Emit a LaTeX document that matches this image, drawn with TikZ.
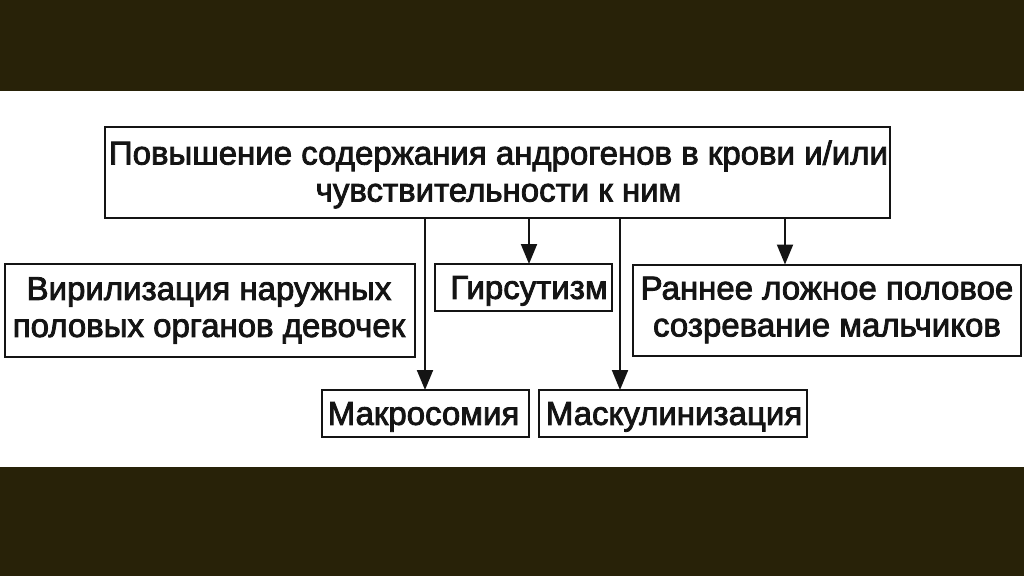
\documentclass[tikz,border=0pt]{standalone}
\usepackage{fontspec}
\setmainfont{Liberation Sans}[FakeBold=2.5]
\usetikzlibrary{arrows.meta}
\definecolor{band}{RGB}{40,34,8}
\definecolor{ink}{RGB}{20,20,20}
\begin{document}
\begin{tikzpicture}[x=1pt,y=-1pt,
  box/.style={draw=ink,line width=2pt,inner sep=0pt},
  txt/.style={inner sep=0pt,align=center,text=ink,
    font=\fontsize{33}{37}\selectfont},
  one/.style={txt,text depth=0pt},
  arr/.style={draw=ink,line width=2pt,-{Triangle[length=20pt,width=16pt]},shorten >=-1pt}]
\useasboundingbox (0,0) rectangle (1024,576);
\fill[white] (0,0) rectangle (1024,576);
\fill[band] (0,0) rectangle (1024,91);
\fill[band] (0,467) rectangle (1024,576);
% boxes
\node[box,minimum width=785pt,minimum height=91pt] (main) at (497.5,172.5) {};
\node[box,minimum width=410pt,minimum height=93pt] (viril) at (210,310.5) {};
\node[box,minimum width=177pt,minimum height=47pt] (girs) at (523,287.5) {};
\node[box,minimum width=388pt,minimum height=91pt] (rann) at (827,310) {};
\node[box,minimum width=207pt,minimum height=47pt] (makro) at (425.5,413.5) {};
\node[box,minimum width=268pt,minimum height=47pt] (mask) at (673,413.5) {};
% texts
\node[txt] (main-t) at ([xshift=1pt,yshift=-2pt]main.center)
  {Повышение содержания андрогенов в крови и/или\\чувствительности к ним};
\node[txt] (viril-t) at ([xshift=-1pt]viril.center)
  {Вирилизация наружных\\половых органов девочек};
\node[one] (girs-t) at ([xshift=6pt]girs.center) {Гирсутизм};
\node[txt] (rann-t) at (rann.center) {Раннее ложное половое\\созревание мальчиков};
\node[one] (makro-t) at ([xshift=-2pt]makro.center) {Макросомия};
\node[one] (mask-t) at ([xshift=1pt]mask.center) {Маскулинизация};
% connectors
\coordinate (xa) at (425,0);
\coordinate (xb) at (529,0);
\coordinate (xc) at (620,0);
\coordinate (xd) at (785,0);
\draw[arr] (main.south -| xa) -- (makro.north -| xa);
\draw[arr] (main.south -| xb) -- (girs.north -| xb);
\draw[arr] (main.south -| xc) -- (mask.north -| xc);
\draw[arr] (main.south -| xd) -- (rann.north -| xd);
\end{tikzpicture}
\end{document}
